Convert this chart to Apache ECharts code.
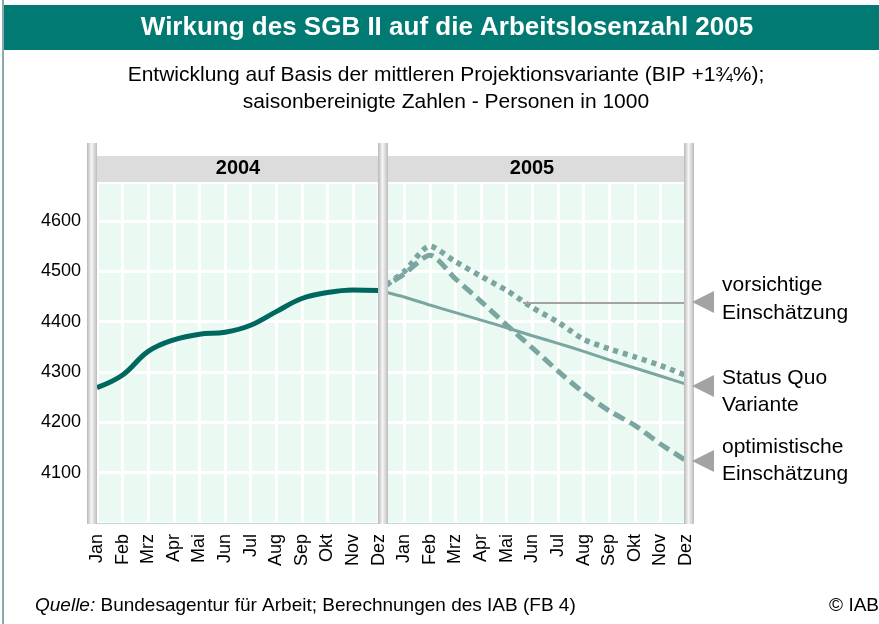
<!DOCTYPE html>
<html>
<head>
<meta charset="utf-8">
<script src="https://cdn.jsdelivr.net/npm/echarts@6/dist/echarts.min.js"></script>
<style>
html,body{margin:0;padding:0;background:#fff;}
#chart{width:879px;height:624px;}
</style>
</head>
<body>
<div id="chart"></div>
<script>
const months = ['Jan','Feb','Mrz','Apr','Mai','Jun','Jul','Aug','Sep','Okt','Nov','Dez'];
const categories = months.concat(months);
const yearLabels = ['2004', '2005'];
const yTicks = [4100, 4200, 4300, 4400, 4500, 4600];
// 2004 actual values, Jan..Dez 2004
const values2004 = [4269, 4294, 4341, 4364, 4375, 4379, 4393, 4420, 4446, 4458, 4463, 4462];
// 2005 projections, starting at Dez 2004
const statusQuo2005 = [4462, 4449, 4433, 4418, 4403, 4388, 4372, 4357, 4341, 4324, 4308, 4292, 4276];
const vorsichtig2005 = [4462, 4500, 4550, 4519, 4490, 4462, 4428, 4399, 4365, 4346, 4330, 4313, 4293];
const optimistisch2005 = [4462, 4495, 4532, 4485, 4440, 4393, 4348, 4302, 4259, 4223, 4194, 4157, 4124];

const FONT = 'Arial, "Liberation Sans", sans-serif';
const pad = n => Array(n).fill(null);
const data2004 = values2004.concat(pad(12));
const dataSQ = pad(11).concat(statusQuo2005);
const dataV = pad(11).concat(vorsichtig2005);
const dataO = pad(11).concat(optimistisch2005);

const projColor = '#7aa5a1';
const barGrad = {type:'linear', x:0, y:0, x2:1, y2:0, colorStops:[
  {offset:0, color:'#b8b8b8'}, {offset:0.45, color:'#f6f6f6'}, {offset:1, color:'#bcbcbc'}]};
function bar(x){ return {type:'rect', z:100, shape:{x:x, y:143, width:10, height:381}, style:{fill:barGrad}}; }
function tri(y){ return {type:'polygon', z:100, shape:{points:[[692,y],[714,y-11],[714,y+11]]}, style:{fill:'#a3a3a3'}}; }
function txt(x, y, t, extra){ return Object.assign({type:'text', z:100, x:x, y:y, style:Object.assign({text:t, font:'21px ' + FONT, fill:'#000', textVerticalAlign:'middle'}, extra || {})}); }

const chart = echarts.init(document.getElementById('chart'), null, {renderer:'canvas'});
chart.setOption({
  animation:false,
  backgroundColor:'#fff',
  grid:{left:97, right:193, top:182, bottom:101, show:true, backgroundColor:'#eaf9f1', borderWidth:0},
  xAxis:{
    type:'category', data:categories, boundaryGap:false,
    axisLine:{show:true, lineStyle:{color:'#c3d6cf', width:1}},
    axisTick:{show:false},
    axisLabel:{interval:0, rotate:90, margin:11, fontSize:18, fontFamily:FONT, color:'#000'},
    splitLine:{show:true, interval:0, lineStyle:{color:'#ffffff', width:3}}
  },
  yAxis:{
    type:'value', min:4000, max:4677.5, interval:100,
    axisLine:{show:false}, axisTick:{show:false},
    axisLabel:{margin:16, fontSize:18, fontFamily:FONT, color:'#000', showMaxLabel:false,
      formatter: v => yTicks.indexOf(v) >= 0 ? String(v) : ''},
    splitLine:{show:true, lineStyle:{color:'#ffffff', width:3}}
  },
  series:[
    {type:'line', data:dataSQ, symbol:'none', smooth:0.2, lineStyle:{color:projColor, width:3}, z:3},
    {type:'line', data:dataO, symbol:'none', smooth:0.25, lineStyle:{color:projColor, width:5, type:[12,6]}, z:3},
    {type:'line', data:dataV, symbol:'none', smooth:0.25, lineStyle:{color:projColor, width:5.5, type:[5,5]}, z:3},
    {type:'line', data:data2004, symbol:'none', smooth:0.4, lineStyle:{color:'#00675f', width:5}, z:4}
  ],
  graphic:[
    {type:'line', z:1, shape:{x1:3, y1:0, x2:3, y2:624}, style:{stroke:'#5e8f8b', lineWidth:1.5}},
    {type:'rect', z:90, shape:{x:4, y:5, width:880, height:45}, style:{fill:'#007a72'}},
    txt(447, 28, 'Wirkung des SGB II auf die Arbeitslosenzahl 2005', {font:'bold 26px ' + FONT, fill:'#fff', textAlign:'center'}),
    txt(446, 75, 'Entwicklung auf Basis der mittleren Projektionsvariante (BIP +1¾%);', {textAlign:'center'}),
    txt(446, 102, 'saisonbereinigte Zahlen - Personen in 1000', {textAlign:'center'}),
    {type:'rect', z:90, shape:{x:92, y:156, width:597, height:26}, style:{fill:'#dcdcdc'}},
    txt(238, 168, yearLabels[0], {font:'bold 20px ' + FONT, textAlign:'center'}),
    txt(532, 168, yearLabels[1], {font:'bold 20px ' + FONT, textAlign:'center'}),
    bar(87), bar(378), bar(684),
    {type:'line', z:95, shape:{x1:523, y1:303, x2:694, y2:303}, style:{stroke:'#a3a3a3', lineWidth:2}},
    tri(302), tri(386), tri(461),
    txt(722, 285, 'vorsichtige'), txt(722, 313, 'Einschätzung'),
    txt(722, 378, 'Status Quo'), txt(722, 405, 'Variante'),
    txt(722, 447, 'optimistische'), txt(722, 474, 'Einschätzung'),
    {type:'text', z:100, x:35, y:606, style:{text:'{i|Quelle:} Bundesagentur für Arbeit; Berechnungen des IAB (FB 4)', font:'19px ' + FONT, fill:'#000', textVerticalAlign:'middle',
      rich:{i:{fontStyle:'italic', fontSize:19, fontFamily:FONT, fill:'#000'}}}},
    txt(879, 606, '© IAB', {font:'19px ' + FONT, textAlign:'right'})
  ]
});
</script>
</body>
</html>
